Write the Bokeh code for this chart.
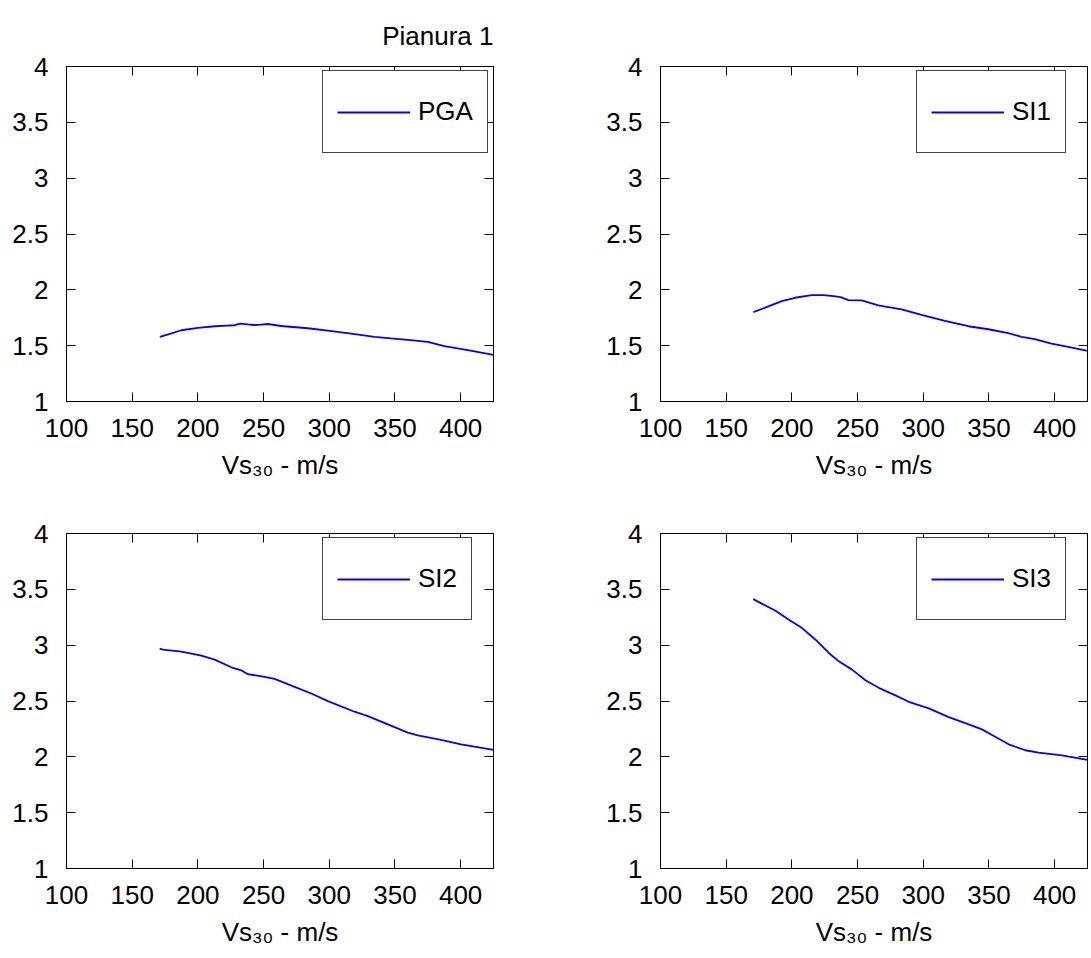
from bokeh.plotting import figure
from bokeh.models import Range1d, FixedTicker, LinearAxis
from bokeh.layouts import gridplot
from bokeh.embed import file_html
from bokeh.resources import INLINE

title_text = "Pianura 1"
x_label = "Vs\u2083\u2080 - m/s"
x_ticks = [100, 150, 200, 250, 300, 350, 400]
y_ticks = [1, 1.5, 2, 2.5, 3, 3.5, 4]
y_tick_labels = ["1", "1.5", "2", "2.5", "3", "3.5", "4"]
x_range_lim = (100, 425)
y_range_lim = (1, 4)

series_names = ["PGA", "SI1", "SI2", "SI3"]

pga_vs = [171, 180, 187.4, 200, 212.8, 222, 228, 232.3, 238, 243, 248, 253.3, 263.4,
          283.7, 300.5, 318, 334.4, 347, 359.7, 375, 387.6, 405.4, 425]
pga_val = [1.579, 1.61, 1.638, 1.659, 1.674, 1.68, 1.683, 1.697, 1.69, 1.685, 1.688, 1.694, 1.676,
           1.656, 1.632, 1.605, 1.579, 1.565, 1.552, 1.534, 1.496, 1.46, 1.418]

si1_vs = [170.7, 179.6, 192.3, 202.4, 215, 224, 231.6, 237, 243, 253.1, 265.8, 283.5, 298.7,
          316.5, 334.3, 349.5, 364.7, 374.8, 384.9, 397.6, 410.3, 425]
si1_val = [1.801, 1.84, 1.899, 1.929, 1.953, 1.953, 1.944, 1.935, 1.908, 1.905, 1.861, 1.825, 1.775,
           1.721, 1.674, 1.647, 1.612, 1.579, 1.558, 1.519, 1.49, 1.454]

si2_vs = [170.9, 173.5, 187.4, 202.6, 212.8, 225.4, 233, 238.1, 250.8, 258.4, 273.6, 286.3, 299,
          319.2, 329.4, 344.6, 359.8, 367.4, 385.1, 400.3, 425]
si2_val = [2.969, 2.96, 2.942, 2.906, 2.871, 2.802, 2.775, 2.74, 2.716, 2.698, 2.627, 2.567, 2.499,
           2.404, 2.365, 2.291, 2.217, 2.193, 2.151, 2.112, 2.062]

si3_vs = [170.6, 177.4, 187.6, 197.7, 207.8, 218, 228.1, 235.7, 245.8, 256, 266.1, 278.8, 289,
          304.2, 319.4, 334.6, 344.7, 352.3, 365, 377.7, 387.8, 405.5, 425]
si3_val = [3.412, 3.37, 3.308, 3.228, 3.153, 3.049, 2.93, 2.855, 2.781, 2.686, 2.618, 2.55, 2.493,
           2.434, 2.356, 2.291, 2.246, 2.196, 2.112, 2.059, 2.038, 2.014, 1.972]

FONT = "Liberation Sans"
FS = "26px"
FRAME_W = 427
FRAME_H = 335
TICK = 9


def style_axis(ax, ticks, show_labels, standoff):
    ax.ticker = FixedTicker(ticks=ticks)
    ax.major_tick_in = TICK
    ax.major_tick_out = 0
    ax.minor_tick_line_color = None
    ax.axis_line_color = "black"
    ax.major_tick_line_color = "black"
    ax.axis_line_width = 1
    if show_labels:
        ax.major_label_text_font = FONT
        ax.major_label_text_font_size = FS
        ax.major_label_text_color = "black"
        ax.major_label_standoff = standoff
    else:
        ax.major_label_text_font_size = "1px"
        ax.major_label_text_color = None
        ax.major_label_standoff = 0


def make_panel(vs, vals, name, borders, title=None):
    left, right, top, bottom = borders
    p = figure(frame_width=FRAME_W, frame_height=FRAME_H,
               x_range=Range1d(*x_range_lim), y_range=Range1d(*y_range_lim),
               output_backend="svg", toolbar_location=None,
               min_border_left=left, min_border_right=right,
               min_border_top=top, min_border_bottom=bottom,
               background_fill_color="white", border_fill_color="white")
    p.grid.visible = False
    p.outline_line_color = "black"
    p.outline_line_width = 1

    style_axis(p.xaxis[0], x_ticks, True, 17)
    style_axis(p.yaxis[0], y_ticks, True, 18)
    p.yaxis[0].major_label_overrides = {t: s for t, s in zip(y_ticks, y_tick_labels)}
    xa = p.xaxis[0]
    xa.axis_label = x_label
    xa.axis_label_text_font = FONT
    xa.axis_label_text_font_size = FS
    xa.axis_label_text_font_style = "normal"
    xa.axis_label_text_color = "black"
    xa.axis_label_standoff = 10

    top_ax = LinearAxis()
    style_axis(top_ax, x_ticks, False, 0)
    p.add_layout(top_ax, "above")
    right_ax = LinearAxis()
    style_axis(right_ax, y_ticks, False, 0)
    p.add_layout(right_ax, "right")

    p.line(vs, vals, line_color="#0000ff", line_width=1.8, legend_label=name)

    leg = p.legend[0]
    leg.location = (256, 248)
    leg.glyph_width = 73
    leg.label_standoff = 8
    leg.padding = 14
    leg.label_height = 53
    leg.margin = 0
    leg.spacing = 0
    leg.label_text_font = FONT
    leg.label_text_font_size = FS
    leg.label_text_color = "black"
    leg.border_line_color = "#444444"
    leg.border_line_alpha = 1
    leg.border_line_width = 1.5
    leg.background_fill_color = "white"
    leg.background_fill_alpha = 1

    if title:
        p.title.text = title
        p.title.align = "right"
        p.title.text_font = FONT
        p.title.text_font_size = FS
        p.title.text_font_style = "normal"
        p.title.text_color = "black"
        p.title.standoff = 32
    return p


p1 = make_panel(pga_vs, pga_val, series_names[0], (66, 53, 66, 90), title=title_text)
p2 = make_panel(si1_vs, si1_val, series_names[1], (114, 4, 66, 90))
p3 = make_panel(si2_vs, si2_val, series_names[2], (66, 53, 42, 90))
p4 = make_panel(si3_vs, si3_val, series_names[3], (114, 4, 42, 90))

grid = gridplot([[p1, p2], [p3, p4]], toolbar_location=None)

open("out.html", "w").write(file_html(grid, INLINE))
